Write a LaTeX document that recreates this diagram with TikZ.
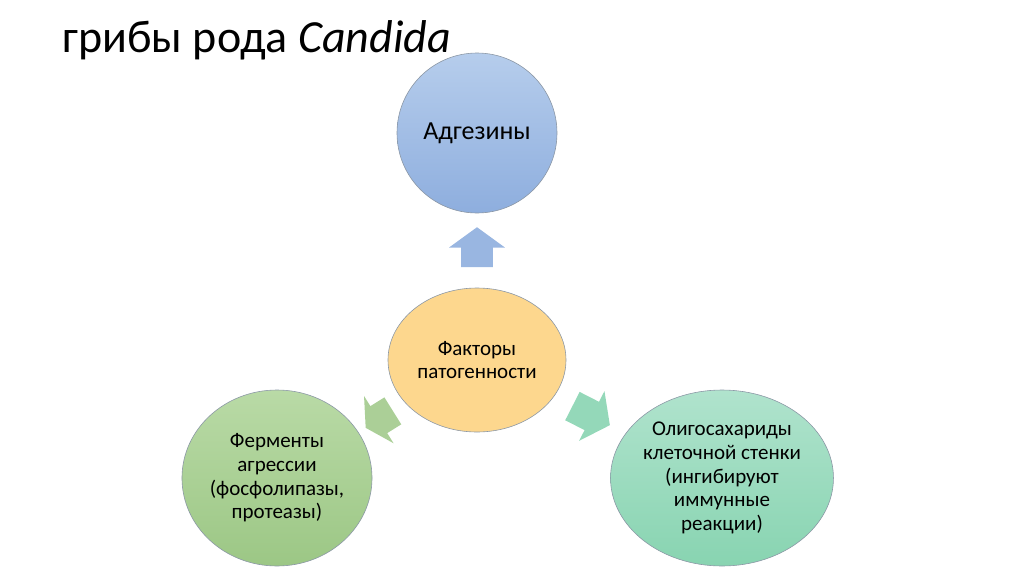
\documentclass[tikz,border=0pt]{standalone}
\usepackage{fontspec}
\setmainfont{Carlito}
\usepackage{tikz}
\usetikzlibrary{shapes.geometric,shapes.arrows,positioning}

\definecolor{blueT}{HTML}{B6CDEC}
\definecolor{blueB}{HTML}{8EAEDE}
\definecolor{orangeF}{HTML}{FDD78E}
\definecolor{greenT}{HTML}{B9DAA6}
\definecolor{greenB}{HTML}{9CC785}
\definecolor{mintT}{HTML}{B0E3CD}
\definecolor{mintB}{HTML}{88D4B1}
\definecolor{rimgray}{HTML}{8C98A6}

\begin{document}
\begin{tikzpicture}[
    x=0.5pt, y=-0.5pt,
    bubble/.style={ellipse, draw=rimgray, line width=0.3pt, inner sep=0pt,
                   align=center, font=\fontsize{10.5}{11.8}\selectfont},
    blockarrow/.style={single arrow, draw=none, inner xsep=0pt, inner ysep=7.75pt,
                   minimum height=20pt,
                   single arrow head extend=6pt, single arrow tip angle=108}
]
    \useasboundingbox (0,0) rectangle (1024,574);

    % title
    \node[anchor=base west, inner sep=0pt, font=\fontsize{23}{27}\selectfont]
        (title) at (62,52) {грибы рода \textit{Candida}};

    % centre
    \node[bubble, fill=orangeF, minimum width=89pt, minimum height=72pt]
        (factors) at (477,360) {Факторы\\патогенности};

    % top
    \node[bubble, top color=blueT, bottom color=blueB, minimum width=80pt,
          minimum height=80pt, font=\fontsize{13}{15}\selectfont]
        (adhesins) at (477,133) {Адгезины};

    % bottom left
    \node[bubble, top color=greenT, bottom color=greenB, minimum width=92.5pt,
          minimum height=88pt]
        (enzymes) at (277,478) {Ферменты\\агрессии\\(фосфолипазы,\\протеазы)};

    % bottom right
    \node[bubble, top color=mintT, bottom color=mintB, minimum width=110pt,
          minimum height=88pt]
        (oligo) at (722,478) {Олигосахариды\\клеточной стенки\\(ингибируют\\иммунные\\реакции)};

    % arrows out of the centre
    \node[blockarrow, fill=blueB!90, rotate=90] (upArrow) at (477,253) {};
    \node[blockarrow, fill=greenB!85, rotate=212, minimum height=16pt,
          single arrow tip angle=122] (leftArrow) at (383,417) {};
    \node[blockarrow, fill=mintB!90, rotate=-27, minimum height=21pt]
        (rightArrow) at (586,413) {};
\end{tikzpicture}
\end{document}
